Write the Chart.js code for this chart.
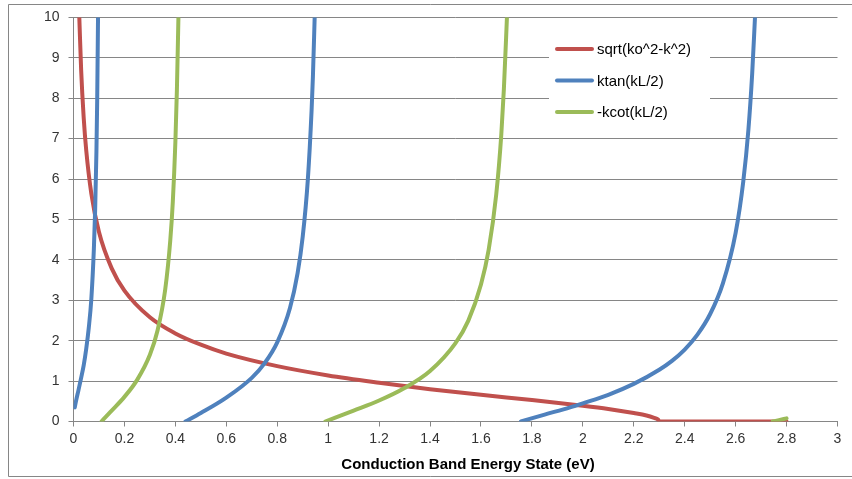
<!DOCTYPE html>
<html>
<head>
<meta charset="utf-8">
<script src="https://cdn.jsdelivr.net/npm/chart.js@4.4.1/dist/chart.umd.min.js"></script>
<style>
  body { margin: 0; background: #fff; }
  #wrap { width: 852px; height: 479px; }
</style>
</head>
<body>
<div id="wrap"><canvas id="chart" width="852" height="479"></canvas></div>
<script>
// values (null = break between branches)
const redX = [0.0228, 0.03, 0.04, 0.05, 0.07, 0.1, 0.15, 0.2, 0.3, 0.4, 0.5, 0.6, 0.8, 1.0, 1.2, 1.4, 1.6, 1.8, 2.0, 2.1, 2.2, 2.25, 2.28, 2.295, 2.3, 2.8];
const redY = [10, 8.70, 7.52, 6.71, 5.64, 4.69, 3.79, 3.24, 2.58, 2.18, 1.90, 1.68, 1.37, 1.14, 0.96, 0.80, 0.66, 0.53, 0.39, 0.31, 0.21, 0.15, 0.09, 0.05, 0, 0];

const blueX = [0.005, 0.01, 0.02, 0.03, 0.04, 0.05, 0.06, 0.07, 0.08, 0.085, 0.09, 0.093, 0.0963, null,
  0.4393, 0.5, 0.6, 0.7, 0.75, 0.8, 0.85, 0.88, 0.9, 0.92, 0.935, 0.94, 0.947, null,
  1.757, 1.85, 1.95, 2.0, 2.1, 2.2, 2.3, 2.35, 2.4, 2.45, 2.5, 2.55, 2.6, 2.63, 2.65, 2.665, 2.676];
const blueY = [0.35, 0.51, 0.79, 1.08, 1.39, 1.80, 2.32, 3.03, 4.27, 5.23, 6.67, 7.94, 10, null,
  0, 0.21, 0.59, 1.08, 1.44, 1.96, 2.81, 3.67, 4.57, 5.97, 7.71, 8.52, 10, null,
  0, 0.17, 0.35, 0.45, 0.66, 0.93, 1.28, 1.50, 1.78, 2.15, 2.66, 3.42, 4.67, 5.94, 7.21, 8.61, 10];

const greenX = [0.1098, 0.12, 0.15, 0.2, 0.25, 0.3, 0.33, 0.36, 0.38, 0.39, 0.40, 0.406, 0.412, null,
  0.9884, 1.1, 1.2, 1.3, 1.4, 1.5, 1.55, 1.6, 1.63, 1.66, 1.68, 1.69, 1.702, null,
  2.7455, 2.77, 2.8];
const greenY = [0, 0.07, 0.27, 0.61, 1.03, 1.65, 2.25, 3.26, 4.48, 5.44, 6.91, 8.20, 10, null,
  0, 0.27, 0.52, 0.83, 1.25, 1.94, 2.49, 3.39, 4.24, 5.62, 7.12, 8.23, 10, null,
  0, 0.035, 0.078];

const seriesNames = ["sqrt(ko^2-k^2)", "ktan(kL/2)", "-kcot(kL/2)"];
const seriesColors = ["#C0504D", "#4F81BD", "#9BBB59"];
const xTitle = "Conduction Band Energy State (eV)";

const FONT = "'Liberation Sans', Arial, sans-serif";
const GRID = "#868686";

function toPoints(xs, ys) {
    return xs.map((x, i) => ({ x: x, y: ys[i] }));
}

// outer frame like the spreadsheet chart border
const framePlugin = {
    id: "frame",
    beforeDraw(chart) {
        const ctx = chart.ctx;
        ctx.save();
        ctx.fillStyle = "#fff";
        ctx.fillRect(0, 0, chart.width, chart.height);
        ctx.strokeStyle = GRID;
        ctx.lineWidth = 1;
        ctx.beginPath();
        ctx.moveTo(860, 4.5);
        ctx.lineTo(8.5, 4.5);
        ctx.lineTo(8.5, 476.5);
        ctx.lineTo(860, 476.5);
        ctx.stroke();
        ctx.restore();
    }
};

// legend box sitting on top of the plot, covering the grid lines
const boxLegend = {
    id: "boxLegend",
    afterDatasetsDraw(chart) {
        const ctx = chart.ctx;
        ctx.save();
        ctx.fillStyle = "#fff";
        ctx.fillRect(549, 33, 161, 95);
        ctx.font = "15px " + FONT;
        ctx.textBaseline = "middle";
        ctx.textAlign = "left";
        chart.data.datasets.forEach((ds, i) => {
            const y = 49 + i * 31.5;
            ctx.strokeStyle = ds.borderColor;
            ctx.lineWidth = 4;
            ctx.lineCap = "round";
            ctx.beginPath();
            ctx.moveTo(557, y);
            ctx.lineTo(592, y);
            ctx.stroke();
            ctx.fillStyle = "#000";
            ctx.fillText(ds.label, 597, y + 1);
        });
        ctx.restore();
    }
};

const titlePlugin = {
    id: "xTitle",
    afterDraw(chart) {
        const ctx = chart.ctx;
        ctx.save();
        ctx.font = "bold 15px " + FONT;
        ctx.fillStyle = "#000";
        ctx.textAlign = "center";
        ctx.textBaseline = "middle";
        ctx.fillText(xTitle, 468, 465);
        ctx.restore();
    }
};

const datasets = [
    { data: toPoints(redX, redY), order: 3 },
    { data: toPoints(blueX, blueY), order: 2 },
    { data: toPoints(greenX, greenY), order: 1 }
].map((d, i) => Object.assign(d, {
    label: seriesNames[i],
    borderColor: seriesColors[i],
    backgroundColor: seriesColors[i],
    borderWidth: 4,
    pointRadius: 0,
    showLine: true,
    spanGaps: false,
    cubicInterpolationMode: "monotone",
    borderCapStyle: "round",
    borderJoinStyle: "round"
}));

new Chart(document.getElementById("chart"), {
    type: "scatter",
    data: { datasets: datasets },
    plugins: [framePlugin, boxLegend, titlePlugin],
    options: {
        responsive: false,
        animation: false,
        layout: { padding: { left: 0, top: 13, right: 14.5, bottom: 0 } },
        plugins: {
            legend: { display: false },
            tooltip: { enabled: false }
        },
        scales: {
            x: {
                type: "linear",
                min: 0,
                max: 3,
                afterFit: (scale) => { scale.height = 57.5; },
                border: { color: GRID, width: 1 },
                grid: { drawOnChartArea: false, drawTicks: true, tickLength: 5, color: GRID },
                ticks: {
                    stepSize: 0.2,
                    padding: 4,
                    color: "#333",
                    font: { family: FONT, size: 14 },
                    callback: (v) => String(Number(v.toFixed(1)))
                }
            },
            y: {
                min: 0,
                max: 10,
                afterFit: (scale) => { scale.width = 73.5; },
                border: { color: GRID, width: 1 },
                grid: { color: GRID, lineWidth: 1, tickLength: 5 },
                ticks: {
                    stepSize: 1,
                    padding: 9,
                    color: "#333",
                    font: { family: FONT, size: 14 }
                }
            }
        }
    }
});
</script>
</body>
</html>
